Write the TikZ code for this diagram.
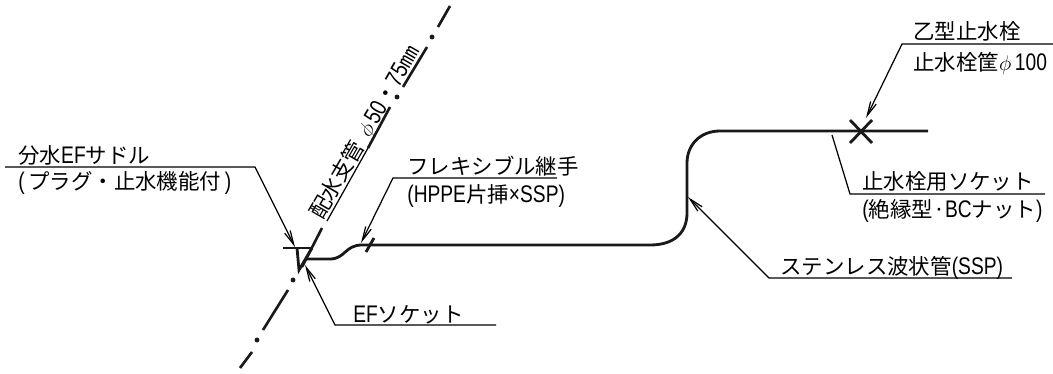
\documentclass[tikz,border=0pt]{standalone}
\usepackage{fontspec}
\setmainfont{Noto Sans CJK JP}
\newfontfamily\narrowfont[FakeStretch=0.8, Scale=1.12]{Liberation Sans}
\newcommand{\lat}[1]{{\narrowfont #1}}
\usepackage{tikz}
\usetikzlibrary{arrows.meta}

\begin{document}
\begin{tikzpicture}[x=0.02cm, y=-0.02cm, >={Straight Barb[length=8pt, width=3.5pt]},
        label node/.style={anchor=base west, inner sep=0pt, font=\fontsize{12.2}{14}\selectfont},
        leader/.style={line width=0.7pt, black},
        pipe/.style={line width=1.6pt, black!90},
        axis/.style={line width=1.5pt, black!90},
        axis dot/.style={circle, fill=black!90, inner sep=0pt, minimum size=2.8pt}]
        \useasboundingbox (0,0) rectangle (1053,374);

        % labels
        \node[label node] (saddle) at (18,164) {分水\lat{EF}サドル};
        \node[label node] (saddlenote) at (18,190) {\lat{(}\,プラグ・止水機能付\,\lat{)}};
        \node[label node] (flexible) at (407,175) {フレキシブル継手};
        \node[label node] (flexnote) at (407,203) {\lat{(HPPE}片挿\lat{×SSP)}};
        \node[label node] (efsocket) at (353,322) {\lat{EF}ソケット};
        \node[label node] (stopcock) at (913,40) {乙型止水栓};
        \node[label node] (stopbox) at (913,71) {止水栓筐$\phi$\,\lat{100}};
        \node[label node] (socket) at (862,190) {止水栓用ソケット};
        \node[label node] (socketnote) at (862,218) {\lat{(}絶縁型·\lat{BC}ナット\lat{)}};
        \node[label node] (stainless) at (780,275) {ステンレス波状管\lat{(SSP)}};
        \node[label node, anchor=base, rotate=60] (branch) at (371,136) {配水支管\hspace{5pt}$\phi$\,\lat{50}・\lat{75}㎜};

        % branch main, one dash at a time
        \draw[axis] (450,6) -- (438,27);
        \draw[axis] (427,47) -- (403,87);
        \draw[axis] (390,107) -- (368,148);
        \draw[leader] (368,148) -- (327,221);
        \draw[axis] (322,228) -- (302,267);
        \draw[axis] (288,290) -- (263,330);
        \draw[axis] (252,352) -- (240,368);
        \node[axis dot] (dota) at (432,37) {};
        \node[axis dot] (dotb) at (397,97) {};
        \node[axis dot] (dotc) at (293,280) {};
        \node[axis dot] (dotd) at (257,340) {};

        % saddle and service pipe
        \draw[pipe] (283,248) -- (313,248);
        \draw[pipe] (297,248) -- (299,270) -- (312,248);
        \draw[pipe] (305,259) -- (330,259) .. controls (345,259) and (345,245) .. (362,245)
            -- (650,245) .. controls (675,245) and (687,232) .. (687,213)
            -- (687,163) .. controls (687,145) and (700,131) .. (720,131) -- (928,131);
        \draw[pipe] (366,252) -- (374,238);
        \node[inner sep=0pt, minimum size=0pt] (cross) at (861,131) {};
        \draw[pipe] (850,120) -- (872,143);
        \draw[pipe] (850,143) -- (872,120);

        % leaders
        \coordinate (saddletip) at (295,247);
        \coordinate (flextip) at (361,243);
        \coordinate (eftip) at (305,265);
        \coordinate (crosstip) at (866,118);
        \coordinate (sockettip) at (832,135);
        \coordinate (ssptip) at (688,197);
        \draw[leader, ->] (5,167) -- (255,167) -- (saddletip);
        \draw[leader, ->] (557,178) -- (393,178) -- (flextip);
        \draw[leader, ->] (496,325) -- (335,325) -- (eftip);
        \draw[leader, ->] (1053,44) -- (902,44) -- (crosstip);
        \draw[leader] (1045,194) -- (850,194) -- (sockettip);
        \draw[leader, ->] (1012,278) -- (769,278) -- (ssptip);
    \end{tikzpicture}
\end{document}
